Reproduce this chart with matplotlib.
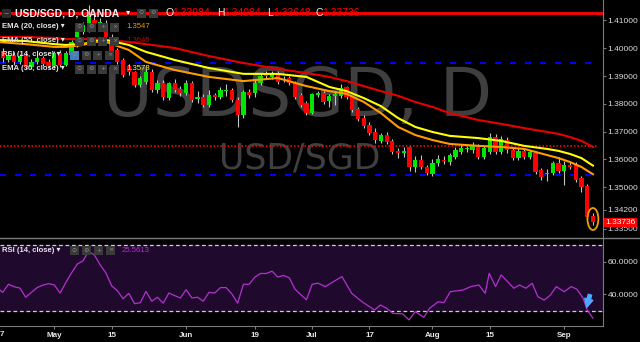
import numpy as np
import pandas as pd
import matplotlib.pyplot as plt
from matplotlib.patches import Rectangle, Ellipse
from matplotlib.lines import Line2D

plt.rcParams['font.family'] = ['Liberation Sans', 'DejaVu Sans']

# USD/SGD daily candles, 17 Apr .. 8 Sep 2017 (OANDA)
days = pd.bdate_range('2017-04-17', '2017-09-08')

opens = [1.3994, 1.3990, 1.3958, 1.3976, 1.3951, 1.3976, 1.3933, 1.3951, 1.3965, 1.3951,
         1.3936, 1.3983, 1.3940, 1.3976, 1.4012, 1.4059, 1.4066, 1.4102, 1.4087, 1.4091,
         1.4041, 1.3994, 1.3958, 1.3936, 1.3915, 1.3868, 1.3879, 1.3915, 1.3850, 1.3875,
         1.3821, 1.3875, 1.3854, 1.3839, 1.3875, 1.3818, 1.3825, 1.3796, 1.3832, 1.3825,
         1.3846, 1.3850, 1.3814, 1.3760, 1.3843, 1.3839, 1.3875, 1.3908, 1.3897, 1.3911,
         1.3886, 1.3893, 1.3875, 1.3832, 1.3803, 1.3767, 1.3832, 1.3839, 1.3810, 1.3829,
         1.3829, 1.3861, 1.3825, 1.3782, 1.3749, 1.3724, 1.3699, 1.3667, 1.3688, 1.3667,
         1.3631, 1.3623, 1.3645, 1.3573, 1.3598, 1.3573, 1.3548, 1.3587, 1.3598, 1.3591,
         1.3609, 1.3627, 1.3638, 1.3634, 1.3645, 1.3609, 1.3627, 1.3681, 1.3627, 1.3670,
         1.3634, 1.3605, 1.3631, 1.3609, 1.3623, 1.3562, 1.3548, 1.3551, 1.3587, 1.3559,
         1.3580, 1.3580, 1.3533, 1.3505, 1.33984]
closes = [1.3965, 1.3965, 1.3976, 1.3951, 1.3972, 1.3933, 1.3951, 1.3965, 1.3943, 1.3936,
          1.3983, 1.3940, 1.3983, 1.4023, 1.4059, 1.4084, 1.4120, 1.4091, 1.4095, 1.4041,
          1.3983, 1.3951, 1.3904, 1.3915, 1.3868, 1.3893, 1.3915, 1.3850, 1.3875, 1.3825,
          1.3875, 1.3850, 1.3839, 1.3875, 1.3814, 1.3825, 1.3796, 1.3832, 1.3825, 1.3850,
          1.3850, 1.3814, 1.3760, 1.3843, 1.3832, 1.3875, 1.3900, 1.3900, 1.3911, 1.3879,
          1.3890, 1.3875, 1.3825, 1.3796, 1.3767, 1.3836, 1.3839, 1.3807, 1.3829, 1.3836,
          1.3857, 1.3825, 1.3778, 1.3746, 1.3720, 1.3695, 1.3670, 1.3688, 1.3663, 1.3627,
          1.3623, 1.3631, 1.3573, 1.3598, 1.3573, 1.3551, 1.3587, 1.3602, 1.3595, 1.3616,
          1.3634, 1.3641, 1.3641, 1.3652, 1.3609, 1.3641, 1.3681, 1.3627, 1.3674, 1.3634,
          1.3605, 1.3631, 1.3609, 1.3627, 1.3555, 1.3537, 1.3551, 1.3587, 1.3559, 1.3580,
          1.3573, 1.3526, 1.3501, 1.3393, 1.33736]
highs = [1.4005, 1.4000, 1.3990, 1.3985, 1.3980, 1.3985, 1.3960, 1.3975, 1.3972, 1.3960,
         1.3992, 1.3995, 1.3990, 1.4030, 1.4070, 1.4095, 1.4156, 1.4125, 1.4110, 1.4100,
         1.4050, 1.4000, 1.3965, 1.3945, 1.3920, 1.3900, 1.3925, 1.3925, 1.3885, 1.3885,
         1.3880, 1.3890, 1.3865, 1.3885, 1.3882, 1.3845, 1.3835, 1.3850, 1.3840, 1.3862,
         1.3870, 1.3858, 1.3825, 1.3850, 1.3855, 1.3888, 1.3910, 1.3918, 1.3918, 1.3918,
         1.3900, 1.3900, 1.3882, 1.3840, 1.3810, 1.3840, 1.3845, 1.3846, 1.3836, 1.3845,
         1.3870, 1.3866, 1.3830, 1.3788, 1.3760, 1.3735, 1.3715, 1.3697, 1.3700, 1.3672,
         1.3640, 1.3645, 1.3650, 1.3612, 1.3615, 1.3580, 1.3600, 1.3615, 1.3612, 1.3625,
         1.3645, 1.3655, 1.3650, 1.3662, 1.3655, 1.3650, 1.3695, 1.3692, 1.3685, 1.3680,
         1.3642, 1.3640, 1.3640, 1.3635, 1.3630, 1.3570, 1.3565, 1.3595, 1.3610, 1.3595,
         1.3590, 1.3590, 1.3540, 1.3512, 1.34084]
lows = [1.3955, 1.3950, 1.3950, 1.3940, 1.3945, 1.3925, 1.3925, 1.3945, 1.3935, 1.3928,
        1.3930, 1.3932, 1.3935, 1.3970, 1.4005, 1.4050, 1.4060, 1.4080, 1.4075, 1.4030,
        1.3975, 1.3945, 1.3895, 1.3905, 1.3860, 1.3860, 1.3872, 1.3843, 1.3840, 1.3815,
        1.3815, 1.3843, 1.3830, 1.3832, 1.3808, 1.3805, 1.3788, 1.3790, 1.3815, 1.3818,
        1.3830, 1.3806, 1.3717, 1.3750, 1.3820, 1.3825, 1.3868, 1.3893, 1.3890, 1.3872,
        1.3878, 1.3868, 1.3818, 1.3790, 1.3760, 1.3762, 1.3825, 1.3800, 1.3790, 1.3795,
        1.3820, 1.3818, 1.3772, 1.3740, 1.3713, 1.3688, 1.3660, 1.3660, 1.3655, 1.3620,
        1.3605, 1.3610, 1.3560, 1.3555, 1.3565, 1.3545, 1.3542, 1.3575, 1.3585, 1.3580,
        1.3600, 1.3620, 1.3628, 1.3625, 1.3600, 1.3600, 1.3620, 1.3620, 1.3618, 1.3625,
        1.3598, 1.3598, 1.3600, 1.3602, 1.3548, 1.3525, 1.3522, 1.3545, 1.3550, 1.3508,
        1.3565, 1.3520, 1.3483, 1.3385, 1.33648]

# moving averages at these candle numbers
ema_idx = [0, 5, 10, 12, 15, 17, 19, 23, 26, 31, 37, 43, 49, 54, 58, 61, 64, 67, 70, 73,
           76, 79, 84, 88, 92, 96, 98, 100, 102, 104]
ema20 = [1.4023, 1.4015, 1.4005, 1.4005, 1.4012, 1.4023, 1.4023, 1.3994, 1.3951, 1.3922,
         1.3897, 1.3882, 1.3893, 1.3864, 1.3846, 1.3836, 1.3807, 1.3767, 1.3717, 1.3688,
         1.3670, 1.3656, 1.3649, 1.3645, 1.3638, 1.3616, 1.3605, 1.3591, 1.3573, 1.3547]
ema30 = [1.4030, 1.4026, 1.4015, 1.4012, 1.4015, 1.4026, 1.4030, 1.4012, 1.3987, 1.3958,
         1.3929, 1.3908, 1.3908, 1.3897, 1.3861, 1.3846, 1.3821, 1.3792, 1.3749, 1.3717,
         1.3699, 1.3685, 1.3677, 1.3667, 1.3649, 1.3638, 1.3631, 1.3620, 1.3605, 1.3578]
ema55 = [1.4041, 1.4041, 1.4037, 1.4033, 1.4033, 1.4033, 1.4030, 1.4023, 1.4015, 1.4001,
         1.3972, 1.3947, 1.3926, 1.3911, 1.3897, 1.3882, 1.3864, 1.3846, 1.3829, 1.3807,
         1.3789, 1.3767, 1.3742, 1.3728, 1.3713, 1.3699, 1.3692, 1.3681, 1.3667, 1.3645]

rsi_idx = [0.5, 1, 2, 3, 4, 5, 6, 7, 8, 9, 10, 11, 12, 13, 14, 15, 16, 17, 18, 19,
           20, 21, 22, 23, 24, 25, 26, 27, 28, 29, 30, 31, 32, 33, 34, 35, 36, 37, 38, 39,
           40, 41, 42, 43, 44, 45, 46, 47, 48, 49, 50, 51, 52, 53, 54, 55, 56,
           57.3, 58.7, 60.2, 61.9, 63.7, 65.9, 66.9, 68, 69.1, 70.8,
           71.9, 73, 74.5, 75.5, 77, 78, 79.1, 81.3, 82.7, 84.1,
           85.2, 85.9, 87, 88, 90.2, 91.2, 92.3, 93.4, 94.4, 95.5,
           96.6, 97.6, 99, 100.2, 101.2, 102.3, 103, 104]
rsi_val = [42.7, 41.3, 46.2, 44.7, 43.9, 38.3, 41.3, 44.2, 45.7, 46.6, 45.8, 40.9, 47.2, 53.1,
           58.5, 60.5, 66.4, 64.0, 58.1, 53.1, 45.3, 42.3, 37.4, 40.7, 34.4, 35.0, 41.9, 35.9,
           38.3, 34.7, 40.9, 39.3, 37.9, 42.9, 37.9, 38.3, 35.9, 41.3, 40.9, 44.2, 44.2, 40.3,
           34.7, 46.2, 46.2, 50.6, 52.8, 52.8, 54.2, 50.6, 51.6, 50.2, 43.3, 39.9, 36.8, 46.2,
           46.9,
           44.8, 47.8, 50.9, 40.7, 35.6, 30.5, 33.6, 31.6, 28.5, 28.2,
           24.5, 29.5, 26.1, 31.6, 35.6, 35.0, 41.7, 42.7, 44.8, 45.8,
           40.7, 52.9, 44.8, 51.9, 43.8, 45.8, 43.8, 46.8, 38.6, 36.6,
           39.7, 44.8, 41.7, 44.8, 43.2, 37.7, 30.5, 25.6]

tick_dates = ['2017-05-01', '2017-05-15', '2017-06-01', '2017-06-19', '2017-07-03',
              '2017-07-17', '2017-08-01', '2017-08-15', '2017-09-01']
tick_labels = ['May', '15', 'Jun', '19', 'Jul', '17', 'Aug', '15', 'Sep']
price_ticks = [1.335, 1.342, 1.35, 1.36, 1.37, 1.38, 1.39, 1.40, 1.41]
rsi_ticks = [40, 60]

# analyst's drawn levels
red_level = 1.4126
blue_top = 1.3948
blue_low = 1.3546
dotted_level = 1.3650

W, H = 640, 342
def fx(px):
    return px / W
def fy(py):
    return 1 - py / H

fig = plt.figure(figsize=(6.4, 3.42), dpi=100, facecolor='black')
ax = fig.add_axes([0, fy(237), fx(603), fy(0) - fy(237)])
ax2 = fig.add_axes([0, fy(326), fx(603), fy(239) - fy(326)], sharex=ax)
for a in (ax, ax2):
    a.set_facecolor('black')
    for s in a.spines.values():
        s.set_visible(False)
    a.spines['right'].set_visible(True)
    a.spines['right'].set_color('#7a7a7a')
    a.yaxis.tick_right()
    a.tick_params(axis='y', colors='#7a7a7a', labelcolor='#dcdcdc', length=2.5,
                  width=0.8, labelsize=6, pad=0.8)
ax2.spines['bottom'].set_visible(True)
ax2.spines['bottom'].set_color('#7a7a7a')

x = np.arange(len(days))
o = np.array(opens)
c = np.array(closes)
ax.set_xlim(0.52, 105.76)
ax.set_ylim(1.33212, 1.41737)

# watermark
ax.text(fx(298), fy(97), 'USDSGD, D', transform=fig.transFigure, fontsize=49,
        color='#3f3f3f', ha='center', va='center', zorder=0, family='DejaVu Sans')
ax.text(fx(300), fy(158), 'USD/SGD', transform=fig.transFigure, fontsize=25,
        color='#3f3f3f', ha='center', va='center', zorder=0, family='DejaVu Sans')

# levels
ax.axhline(red_level, color='#ff0000', lw=2, zorder=2)
ax.plot([0.5, 103.8], [blue_top, blue_top], color='#0000ff', lw=1.5, dashes=(2.9, 4.3), zorder=2)
ax.plot([0.5, 104.9], [blue_low, blue_low], color='#0000ff', lw=1.5, dashes=(2.9, 4.3), zorder=2)
ax.plot([0.5, 104.9], [dotted_level, dotted_level], color='#ff0000', lw=1.2, dashes=(0.9, 1.2), zorder=2)

# candles
body_h = np.maximum(np.abs(c - o), 0.0003)
body_b = (o + c) / 2 - body_h / 2
colors = np.where(c >= o, '#00e600', '#ff0000')
ax.vlines(x, lows, highs, color='#c4c4c4', lw=0.8, zorder=3)
ax.bar(x, body_h, bottom=body_b, width=0.74, color=colors, linewidth=0, zorder=4)

# EMAs
ax.plot(ema_idx, ema55, color='#e60000', lw=1.5, zorder=5)
ax.plot(ema_idx, ema30, color='#ffff00', lw=1.5, zorder=5)
ax.plot(ema_idx, ema20, color='#ff9c00', lw=1.5, zorder=5)

ax.add_patch(Ellipse((x[-1], 1.3386), 1.9, 0.0079, facecolor='none',
                     edgecolor='#f0a000', lw=1.3, zorder=6))

ax.set_yticks(price_ticks)
ax.set_yticklabels(['%.5f' % v for v in price_ticks])
ax.tick_params(axis='x', bottom=False, labelbottom=False)
ax.text(1.004, closes[-1], '%.5f' % closes[-1], transform=ax.get_yaxis_transform(),
        color='white', fontsize=6, ha='left', va='center', zorder=10, clip_on=False,
        bbox=dict(facecolor='#ff0000', edgecolor='none', pad=1.0))

# RSI panel
ax2.set_ylim(20.8, 73.8)
ax2.axhspan(30, 70, color='#1f0a2e', zorder=0)
ax2.axhline(70, color='#cfcfcf', lw=0.9, dashes=(3, 2.2))
ax2.axhline(30, color='#cfcfcf', lw=0.9, dashes=(3, 2.2))
ax2.plot(rsi_idx, rsi_val, color='#b62fd0', lw=0.9, zorder=3)
ax2.annotate('', xy=(102.8, 30.5), xytext=(103.6, 41.5),
             arrowprops=dict(arrowstyle='simple,head_width=0.6,head_length=0.6,tail_width=0.25',
                             color='#4fa8ff'))
ax2.set_yticks(rsi_ticks)
ax2.set_yticklabels(['%.4f' % v for v in rsi_ticks])
tpos = [days.get_loc(pd.Timestamp(d)) for d in tick_dates]
ax2.set_xticks(tpos)
ax2.set_xticklabels(tick_labels)
ax2.tick_params(axis='x', length=2, width=0.8, color='#7a7a7a', labelcolor='#e8e8e8',
                labelsize=5.8, pad=2)
for t in ax2.get_xticklabels():
    t.set_fontweight('bold')
fig.text(fx(0), fy(335), '7', color='#e8e8e8', fontsize=5.8, fontweight='bold',
         ha='left', va='center')

fig.add_artist(Line2D([0, 1], [fy(238), fy(238)], transform=fig.transFigure,
                      color='#7a7a7a', lw=1))

# legend overlay
def label(px, py, s, color='#e6e6e6', size=5.6, weight='bold'):
    fig.text(fx(px), fy(py), s, color=color, fontsize=size, fontweight=weight,
             ha='left', va='center')

def icon(px, py, sym, fc='#3a3a3a'):
    fig.add_artist(Rectangle((fx(px), fy(py + 4.5)), 9 / W, 9 / H,
                             transform=fig.transFigure, facecolor=fc, edgecolor='none'))
    fig.text(fx(px + 4.5), fy(py), sym, color='#8c8c8c', fontsize=4.5, ha='center',
             va='center', family=['DejaVu Sans'])

icon(2, 13, '−', fc='#2a2a2a')
label(15, 13, 'USD/SGD, D, OANDA', color='#f0f0f0', size=7.5)
label(126, 13, '▾', color='#f0f0f0', size=6)
icon(137, 13, '⊙')
icon(149, 13, '⚙')
for px, lab, val in [(166, 'O', '1.33984'), (217, 'H', '1.34084'),
                     (267, 'L', '1.33648'), (316, 'C', '1.33736')]:
    label(px, 13, lab, color='#f0f0f0', size=7.5, weight='normal')
    label(px + 6, 13, val, color='#ff0000', size=7.5, weight='normal')

rows = [(27, 'EMA (20, close)', '1.3547', '#e69a00'),
        (41, 'EMA (55, close)', '1.3645', '#c00000'),
        (55, 'RSI (14, close)', '', ''),
        (69, 'EMA (30, close)', '1.3578', '#ffff30')]
for py, name, val, vc in rows:
    label(2, py, name + ' ▾')
    x0 = 75 if val else 70
    icon(x0, py, '⊙', fc='#3a3a3a' if val else '#3f7fc0')
    icon(x0 + 11.7, py, '⚙')
    icon(x0 + 23.4, py, '+')
    icon(x0 + 35.1, py, '×')
    if val:
        label(126, py, val, color=vc, weight='normal')

label(2, 250, 'RSI (14, close) ▾')
icon(70, 250, '⊙')
icon(82, 250, '⚙')
icon(94, 250, '+')
icon(106, 250, '×')
label(122, 250, '25.5613', color='#b62fd0', weight='normal')

fig.savefig('out.png', dpi=100, facecolor='black')
